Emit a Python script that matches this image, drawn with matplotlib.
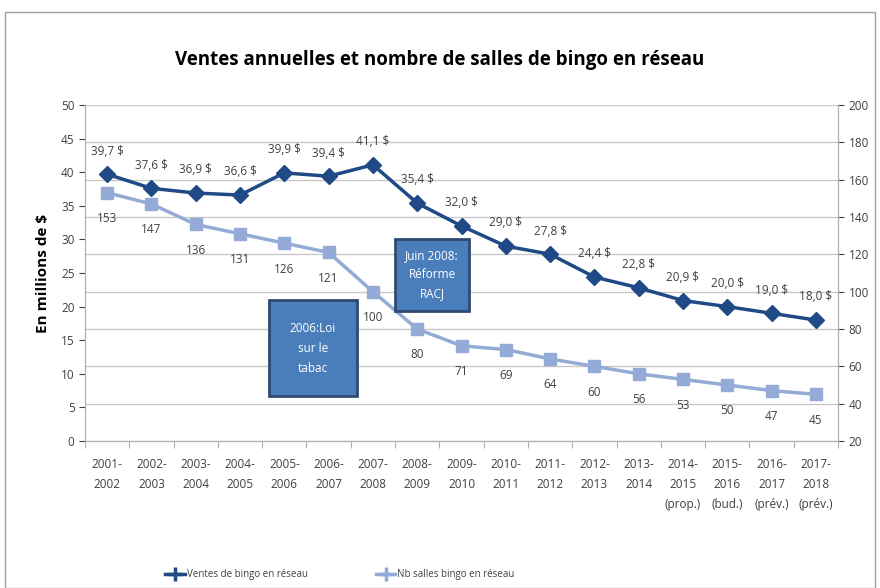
import matplotlib
matplotlib.use("Agg")
import matplotlib.pyplot as plt
from matplotlib.patches import Rectangle
from matplotlib.lines import Line2D

plt.rcParams['font.family'] = ['Open Sans', 'DejaVu Sans']

categories = ["2001-\n2002", "2002-\n2003", "2003-\n2004", "2004-\n2005", "2005-\n2006",
              "2006-\n2007", "2007-\n2008", "2008-\n2009", "2009-\n2010", "2010-\n2011",
              "2011-\n2012", "2012-\n2013", "2013-\n2014", "2014-\n2015\n(prop.)",
              "2015-\n2016\n(bud.)", "2016-\n2017\n(prév.)", "2017-\n2018\n(prév.)"]
ventes = [39.7, 37.6, 36.9, 36.6, 39.9, 39.4, 41.1, 35.4, 32.0, 29.0, 27.8, 24.4, 22.8,
          20.9, 20.0, 19.0, 18.0]
salles = [153, 147, 136, 131, 126, 121, 100, 80, 71, 69, 64, 60, 56, 53, 50, 47, 45]

dark = "#1F4A86"
light = "#93ABD6"
txt = "#404040"

fig = plt.figure(figsize=(8.8, 5.88), dpi=100)
fig.patch.set_facecolor("white")
fig.add_artist(Rectangle((5/880, 0), 870/880, (588-12)/588, transform=fig.transFigure,
                         fill=False, edgecolor="#a0a0a0", lw=1))

ax = fig.add_axes([85/880, 1-441/588, (838-85)/880, (441-105)/588])
ax2 = ax.twinx()
x = list(range(len(categories)))

ax.set_xlim(-0.5, len(categories) - 0.5)
ax.set_ylim(0, 50)
ax2.set_ylim(20, 200)
ax.set_yticks(range(0, 51, 5))
ax2.set_yticks(range(20, 201, 20))
ax2.grid(axis='y', color="#c8c8c8", lw=1)
ax2.set_axisbelow(True)

ax.set_zorder(ax2.get_zorder() + 1)
ax.patch.set_visible(False)

ax.plot(x, ventes, color=dark, lw=2.5, marker='D', ms=8, zorder=5)
ax2.plot(x, salles, color=light, lw=2.5, marker='s', ms=9, zorder=4)

for xi, v in zip(x, ventes):
    ax.annotate(f"{v:.1f} $".replace('.', ','), (xi, v), xytext=(0, 12),
                textcoords='offset points', ha='center', va='bottom',
                fontsize=8.5, color=txt)
for xi, v in zip(x, salles):
    ax2.annotate(f"{v}", (xi, v), xytext=(0, -14), textcoords='offset points',
                 ha='center', va='top', fontsize=8.5, color=txt)

for a in (ax, ax2):
    a.spines['top'].set_visible(False)
    a.spines['left'].set_color("#b0b0b0")
    a.spines['right'].set_color("#b0b0b0")
    a.spines['bottom'].set_color("#b0b0b0")
    a.tick_params(colors=txt, labelsize=8.5, length=4)
    for t in a.get_yticklabels():
        t.set_color(txt)

ax.set_xticks([i - 0.5 for i in range(len(categories) + 1)], minor=False)
ax.set_xticklabels([])
ax.set_xticks(x, minor=True)
ax.set_xticklabels(categories, minor=True, fontsize=8.5, color=txt, va='top', linespacing=1.7)
ax.tick_params(axis='x', which='minor', length=0, pad=12)
ax.tick_params(axis='x', which='major', length=5, color="#b0b0b0")

ax.set_ylabel("En millions de $", fontsize=11, fontweight='bold', color='black', labelpad=8)

fig.text(0.5, 1-60/588, "Ventes annuelles et nombre de salles de bingo en réseau",
         ha='center', va='center', fontsize=13.5, fontweight='bold', color='black')

# annotation boxes
fig.text(432/880, 1-275/588, "Juin 2008:\nRéforme\nRACJ", ha='center', va='center',
         fontsize=8.5, color='white', linespacing=1.6,
         bbox=dict(boxstyle='square,pad=0.9', facecolor="#4A7EBB", edgecolor="#2E4A72", lw=2))
fig.text(313/880, 1-348/588, "2006:Loi\nsur le\ntabac", ha='center', va='center',
         fontsize=8.5, color='white', linespacing=1.7,
         bbox=dict(boxstyle='square,pad=1.8', facecolor="#4A7EBB", edgecolor="#2E4A72", lw=2))

handles = [Line2D([], [], color=dark, lw=2.5, marker='+', ms=10, mew=2.5),
           Line2D([], [], color=light, lw=2.5, marker='+', ms=10, mew=2.5)]
fig.legend(handles, ["Ventes de bingo en réseau", "Nb salles bingo en réseau"],
           loc='center', bbox_to_anchor=(340/880, 1-575/588), ncol=2, frameon=False,
           fontsize=7, handlelength=2.0, handletextpad=0.2, columnspacing=7,
           labelcolor=txt)

fig.savefig("out.png", dpi=100)
